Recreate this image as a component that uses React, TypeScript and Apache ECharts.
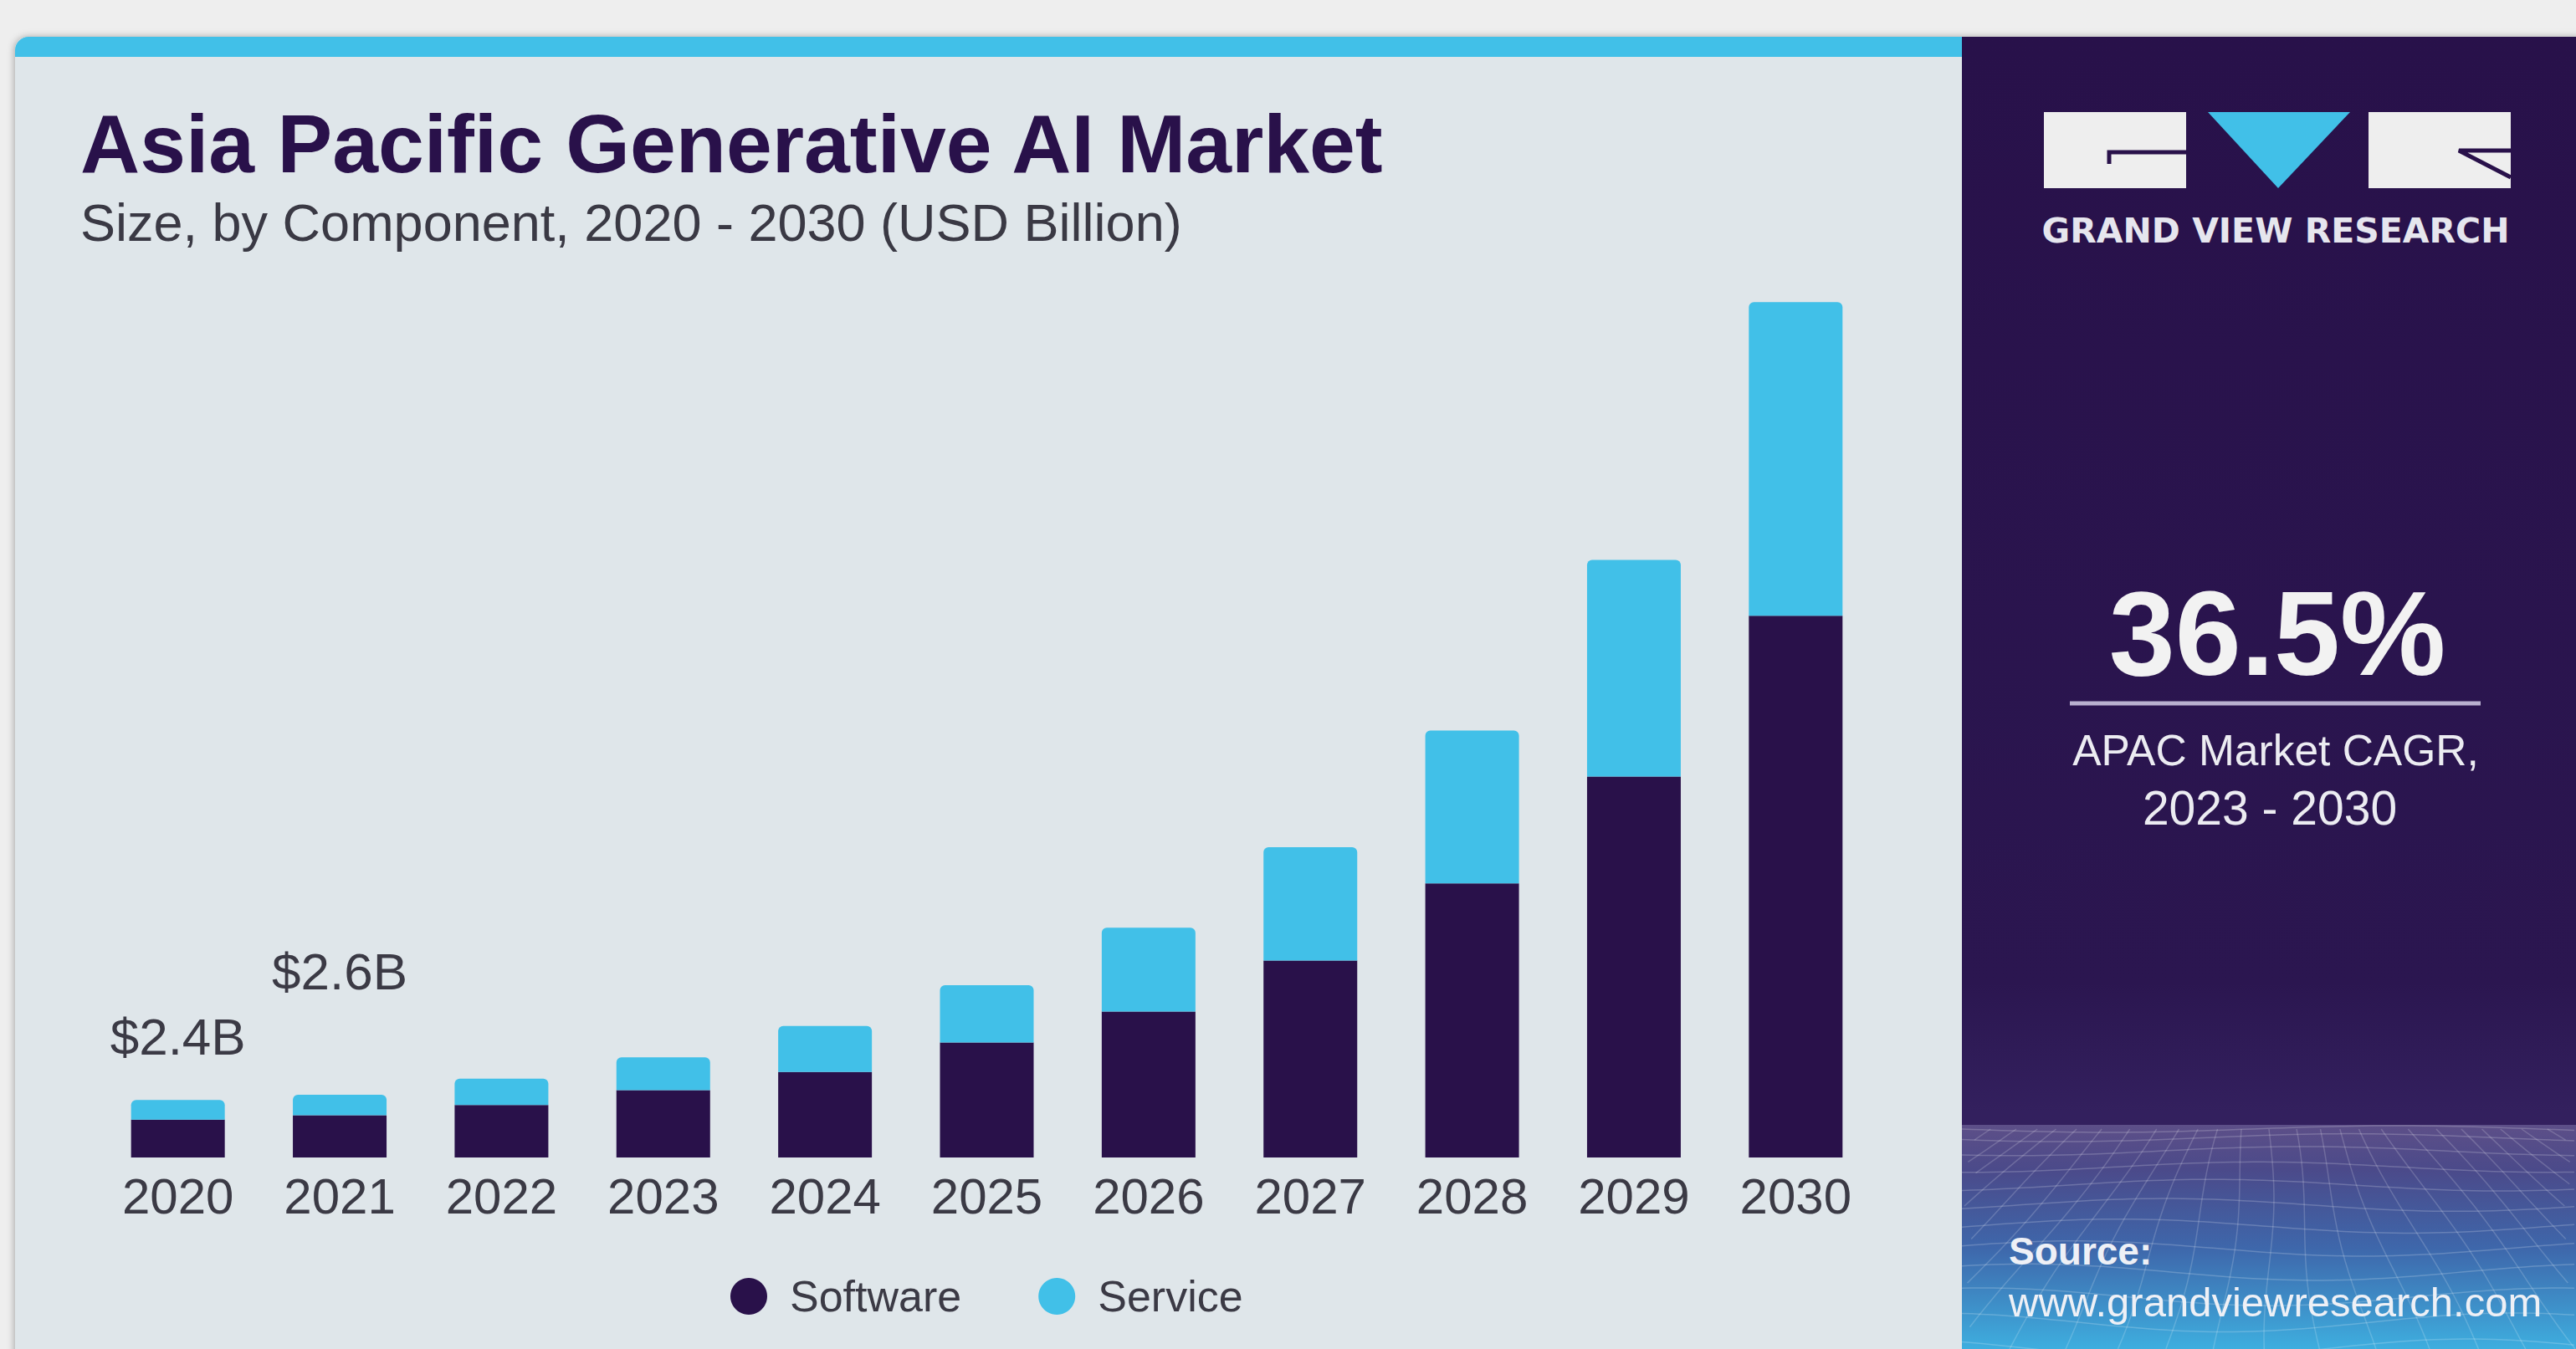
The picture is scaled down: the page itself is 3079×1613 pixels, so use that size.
import { useEffect, useRef } from 'react';
import * as echarts from 'echarts';

const years = ['2020', '2021', '2022', '2023', '2024', '2025', '2026', '2027', '2028', '2029', '2030'];
const software = [1.58, 1.76, 2.19, 2.81, 3.57, 4.8, 6.1, 8.23, 11.45, 15.91, 22.63];
const service = [0.82, 0.86, 1.1, 1.37, 1.92, 2.4, 3.5, 4.73, 6.38, 9.05, 13.1];
const totalLabels = ['$2.4B', '$2.6B', '', '', '', '', '', '', '', '', ''];
const seriesNames = ['Software', 'Service'];
const titleText = 'Asia Pacific Generative AI Market';
const subtitleText = 'Size, by Component, 2020 - 2030 (USD Billion)';
const cagrValue = '36.5%';
const cagrLines = ['APAC Market CAGR,', '2023 - 2030'];
const brandText = 'GRAND VIEW RESEARCH';
const sourceLines = ['Source:', 'www.grandviewresearch.com'];

const PURPLE = '#29114a';
const CYAN = '#41c0e8';
const FONT = '"Liberation Sans", Arial, sans-serif';

function buildMesh() {
  const els: any[] = [];
  const x0 = 2345;
  const x1 = 3079;
  const yTop = 1350;
  const yBot = 1613;
  for (let i = 0; i < 12; i++) {
    const t = i / 11;
    const yb = yTop + (yBot - yTop) * Math.pow(t, 1.35);
    const pts: number[][] = [];
    for (let x = x0; x <= x1; x += 12) {
      const amp = 4 + 8 * t;
      pts.push([x, yb + amp * Math.sin((x - x0) / 110 + i * 0.5)]);
    }
    els.push({ type: 'polyline', z: 1, silent: true, shape: { points: pts }, style: { stroke: 'rgba(255,255,255,0.2)', lineWidth: 1.5, fill: null } });
  }
  const cx = 2712;
  for (let j = -14; j <= 14; j++) {
    const xt = cx + j * 28;
    const xbm = cx + j * 62;
    const pts: number[][] = [];
    for (let k = 0; k <= 20; k++) {
      const t = k / 20;
      const y = yTop + (yBot - yTop) * t;
      const x = xt + (xbm - xt) * t + 6 * Math.sin(t * 5 + j);
      if (x < x0 + 1 || x > x1) break;
      pts.push([x, y]);
    }
    if (pts.length > 1) {
      els.push({ type: 'polyline', z: 1, silent: true, shape: { points: pts }, style: { stroke: 'rgba(255,255,255,0.18)', lineWidth: 1.5, fill: null } });
    }
  }
  return els;
}

export default function App() {
  const ref = useRef<HTMLDivElement>(null);
  useEffect(() => {
    document.body.style.margin = '0';
    const chart = echarts.init(ref.current!, null, { renderer: 'svg' });
    const labelDist: Record<number, number> = { 0: 45, 1: 117 };
    const option: any = {
      animation: false,
      backgroundColor: '#eeeeee',
      grid: { left: 116, right: 836, top: 239, bottom: 229, containLabel: false },
      legend: {
        data: seriesNames,
        left: 868,
        top: 1519,
        icon: 'circle',
        itemWidth: 44,
        itemHeight: 44,
        itemGap: 92,
        textStyle: { fontSize: 52, color: '#3b3a45', fontFamily: FONT, padding: [0, 0, 0, 22] },
      },
      xAxis: {
        type: 'category',
        data: years,
        axisLine: { show: false },
        axisTick: { show: false },
        axisLabel: { fontSize: 60, color: '#3b3a45', fontFamily: FONT, margin: 16 },
      },
      yAxis: { type: 'value', min: 0, max: 40, show: false, splitLine: { show: false } },
      series: [
        {
          name: seriesNames[0],
          type: 'bar',
          stack: 'total',
          barWidth: 112,
          itemStyle: { color: PURPLE },
          data: software,
        },
        {
          name: seriesNames[1],
          type: 'bar',
          stack: 'total',
          barWidth: 112,
          itemStyle: { color: CYAN, borderRadius: [6, 6, 0, 0] },
          data: service.map((v, i) =>
            totalLabels[i]
              ? {
                  value: v,
                  label: {
                    show: true,
                    position: 'top',
                    distance: labelDist[i] ?? 40,
                    formatter: totalLabels[i],
                    fontSize: 62,
                    color: '#3b3a45',
                    fontFamily: FONT,
                  },
                }
              : v
          ),
        },
      ],
      graphic: [
        {
          type: 'rect',
          z: 0,
          silent: true,
          shape: { x: 18, y: 44, width: 3100, height: 1600, r: [16, 0, 0, 0] },
          style: { fill: '#dfe6ea', shadowBlur: 8, shadowColor: 'rgba(0,0,0,0.3)', shadowOffsetX: -1 },
        },
        {
          type: 'rect',
          z: 0,
          silent: true,
          shape: { x: 18, y: 44, width: 2340, height: 24, r: [16, 0, 0, 0] },
          style: { fill: CYAN },
        },
        {
          type: 'rect',
          z: 0,
          silent: true,
          shape: { x: 2345, y: 44, width: 734, height: 1569 },
          style: {
            fill: new echarts.graphic.LinearGradient(0, 0, 0, 1, [
              { offset: 0, color: '#28114a' },
              { offset: 0.72, color: '#2b1650' },
              { offset: 0.82, color: '#33205e' },
              { offset: 1, color: '#33205e' },
            ]),
          },
        },
        {
          type: 'rect',
          z: 0,
          silent: true,
          shape: { x: 2345, y: 1345, width: 734, height: 268 },
          style: {
            fill: new echarts.graphic.LinearGradient(0, 0, 0, 1, [
              { offset: 0, color: '#5d4f88' },
              { offset: 0.2, color: '#4b4a8a' },
              { offset: 0.55, color: '#3e67ab' },
              { offset: 1, color: '#3eaedf' },
            ]),
          },
        },
        ...buildMesh(),
        // logo
        { type: 'rect', z: 5, silent: true, shape: { x: 2443, y: 134, width: 170, height: 91 }, style: { fill: '#eeeeee' } },
        { type: 'polygon', z: 5, silent: true, shape: { points: [[2639, 134], [2809, 134], [2723, 225]] }, style: { fill: CYAN } },
        { type: 'rect', z: 5, silent: true, shape: { x: 2831, y: 134, width: 170, height: 91 }, style: { fill: '#eeeeee' } },
        { type: 'polyline', z: 6, silent: true, shape: { points: [[2521, 196], [2521, 182], [2613, 182]] }, style: { stroke: PURPLE, lineWidth: 5, fill: null } },
        { type: 'polyline', z: 6, silent: true, shape: { points: [[3001, 180], [2939, 180], [3001, 212]] }, style: { stroke: PURPLE, lineWidth: 5, fill: null } },
        {
          type: 'text', z: 10, x: 2720, y: 276,
          style: { text: brandText, fill: '#e6e6ee', fontSize: 41, fontWeight: 'bold', fontFamily: '"DejaVu Sans", sans-serif', textAlign: 'center', textVerticalAlign: 'middle' },
        },
        // titles
        {
          type: 'text', z: 10, x: 96, y: 172,
          style: { text: titleText, fill: PURPLE, fontSize: 98.5, fontWeight: 'bold', fontFamily: FONT, textAlign: 'left', textVerticalAlign: 'middle' },
        },
        {
          type: 'text', z: 10, x: 96, y: 266,
          style: { text: subtitleText, fill: '#3a3944', fontSize: 63, fontFamily: FONT, textAlign: 'left', textVerticalAlign: 'middle' },
        },
        // CAGR
        {
          type: 'text', z: 10, x: 2722, y: 757,
          style: { text: cagrValue, fill: '#f2f2f2', fontSize: 142, fontWeight: 'bold', fontFamily: FONT, textAlign: 'center', textVerticalAlign: 'middle' },
        },
        { type: 'line', z: 10, silent: true, shape: { x1: 2474, y1: 841, x2: 2965, y2: 841 }, style: { stroke: '#b9b1cf', lineWidth: 5 } },
        {
          type: 'text', z: 10, x: 2720, y: 897,
          style: { text: cagrLines[0], fill: '#ececf2', fontSize: 51.5, fontFamily: FONT, textAlign: 'center', textVerticalAlign: 'middle' },
        },
        {
          type: 'text', z: 10, x: 2713, y: 966,
          style: { text: cagrLines[1], fill: '#ececf2', fontSize: 57, fontFamily: FONT, textAlign: 'center', textVerticalAlign: 'middle' },
        },
        // source
        {
          type: 'text', z: 10, x: 2401, y: 1496,
          style: { text: sourceLines[0], fill: '#eef0f6', fontSize: 46, fontWeight: 'bold', fontFamily: FONT, textAlign: 'left', textVerticalAlign: 'middle' },
        },
        {
          type: 'text', z: 10, x: 2401, y: 1557,
          style: { text: sourceLines[1], fill: '#eef0f6', fontSize: 49, fontFamily: FONT, textAlign: 'left', textVerticalAlign: 'middle' },
        },
      ],
    };
    chart.setOption(option);
    return () => chart.dispose();
  }, []);
  return <div ref={ref} style={{ position: 'fixed', left: 0, top: 0, width: 3079, height: 1613 }} />;
}
